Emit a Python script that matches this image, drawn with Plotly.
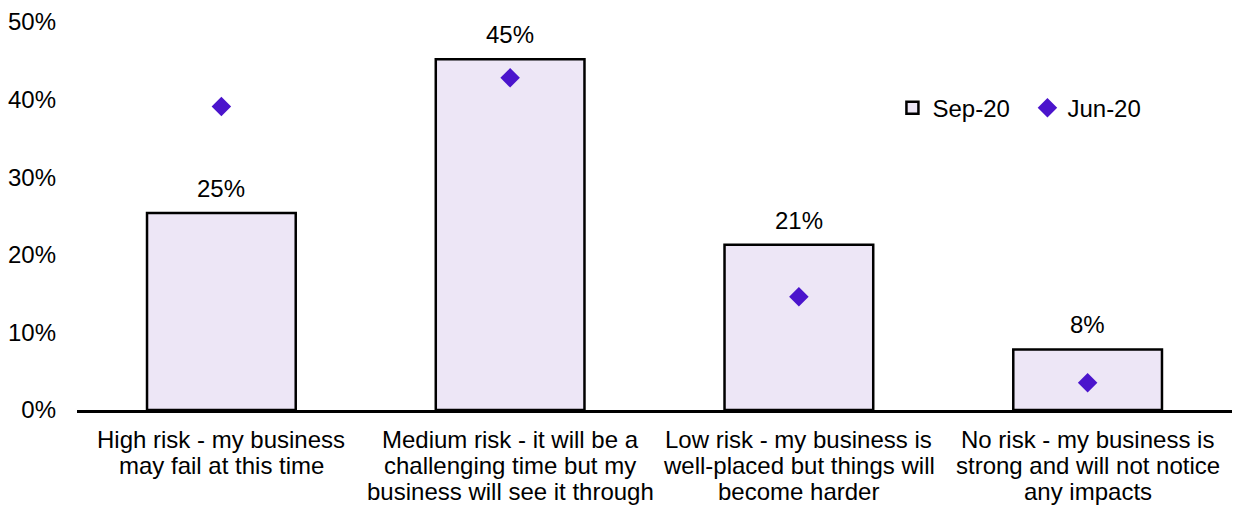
import plotly.graph_objects as go

categories = [
    "High risk - my business<br>may fail at this time",
    "Medium risk - it will be a<br>challenging time but my<br>business will see it through",
    "Low risk - my business is<br>well-placed but things will<br>become harder",
    "No risk - my business is<br>strong and will not notice<br>any impacts",
]
sep20 = [25.4, 45.2, 21.3, 7.8]
jun20 = [39.1, 42.8, 14.6, 3.5]
y_ticks = [0, 10, 20, 30, 40, 50]
y_tick_labels = ["0%", "10%", "20%", "30%", "40%", "50%"]

FONT = "Liberation Sans, Arial, sans-serif"
FS = 24

fig = go.Figure()
fig.add_trace(go.Bar(
    x=categories, y=sep20, name="Sep-20",
    marker=dict(color="#EDE6F6", line=dict(color="#000000", width=2.5)),
    cliponaxis=False, width=0.515,
))
fig.add_trace(go.Scatter(
    x=categories, y=jun20, name="Jun-20", mode="markers",
    marker=dict(symbol="diamond", size=15, color="#4B14CC"),
    cliponaxis=False,
))

annotations = []
# value labels above bars
for c, v in zip(categories, sep20):
    annotations.append(dict(x=c, y=v, xref="x", yref="y", text=f"{v:.0f}%",
                            showarrow=False, yanchor="bottom", yshift=9,
                            font=dict(size=FS, color="#000000", family=FONT)))
# category labels with tight line spacing
for c in categories:
    for i, line in enumerate(c.split("<br>")):
        annotations.append(dict(x=c, y=0, xref="x", yref="y", text=line,
                                showarrow=False, yanchor="middle",
                                yshift=-(29 + 26 * i),
                                font=dict(size=FS, color="#000000", family=FONT)))

fig.update_layout(
    width=1238, height=506,
    margin=dict(l=77, r=6, t=22, b=96),
    plot_bgcolor="white", paper_bgcolor="white",
    font=dict(family=FONT, size=FS, color="#000000"),
    showlegend=True,
    legend=dict(orientation="h", x=0.706, y=0.778, xanchor="left", yanchor="middle",
                font=dict(size=FS, color="#000000"), bgcolor="rgba(0,0,0,0)",
                itemwidth=30, traceorder="normal", entrywidth=90),
    bargap=0.485,
    annotations=annotations,
)
fig.update_xaxes(showline=True, linecolor="#000000", linewidth=3, ticks="",
                 showgrid=False, showticklabels=False)
fig.update_yaxes(range=[0, 50], tickvals=y_ticks, ticktext=y_tick_labels,
                 showgrid=False, zeroline=False, showline=False, ticks="",
                 ticklabelstandoff=20, tickfont=dict(size=FS, color="#000000"))

fig.write_html("out.html")
